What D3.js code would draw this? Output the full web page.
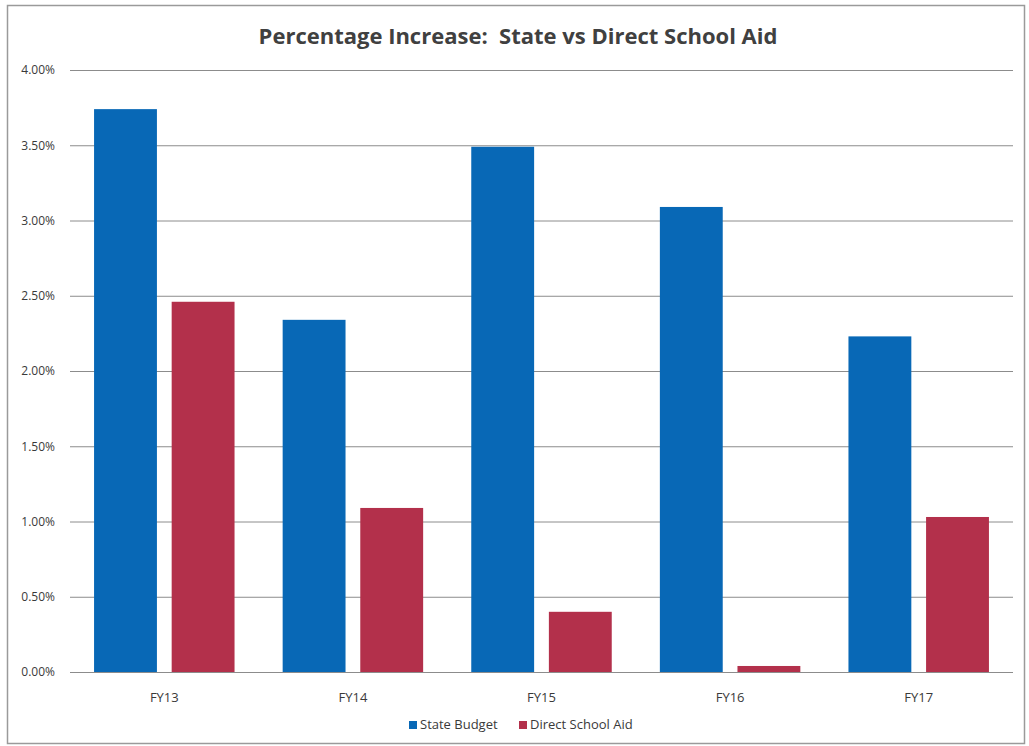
<!DOCTYPE html>
<html>
<head>
<meta charset="utf-8">
<script src="https://cdn.jsdelivr.net/npm/d3@7"></script>
<style>
  body { margin: 0; background: #fff; }
  text { font-family: "Open Sans", "Lato", sans-serif; }
</style>
</head>
<body>
<div id="chart"></div>
<script>
// ===============================
// DATA
// ===============================
const categories = ["FY13", "FY14", "FY15", "FY16", "FY17"];
const seriesNames = ["State Budget", "Direct School Aid"];
const stateBudget = [3.74, 2.34, 3.49, 3.09, 2.23];
const directSchoolAid = [2.46, 1.09, 0.40, 0.04, 1.03];
const yTicks = [0, 0.5, 1, 1.5, 2, 2.5, 3, 3.5, 4];
const colors = ["#0868b6", "#b3304b"];

// ===============================
// DIMENSIONS
// ===============================
const W = 1029, H = 746;
const margin = { top: 70, right: 16, bottom: 74, left: 70 };
const width = W - margin.left - margin.right;
const height = H - margin.top - margin.bottom;

const root = d3.select("#chart").append("svg")
  .attr("width", W)
  .attr("height", H);

// outer frame
root.append("rect")
  .attr("x", 7.5).attr("y", 5.5)
  .attr("width", 1017).attr("height", 738)
  .attr("fill", "#fff")
  .attr("stroke", "#9a9a9a")
  .attr("stroke-width", 1.5);

const svg = root.append("g")
  .attr("transform", `translate(${margin.left},${margin.top})`);

// ===============================
// SCALES
// ===============================
const x0 = d3.scaleBand().domain(categories).range([0, width]).padding(0);
const x1 = d3.scaleBand().domain(seriesNames)
  .range([0, x0.bandwidth()])
  .paddingInner(0.19)
  .paddingOuter(0.31);
const y = d3.scaleLinear().domain([0, 4]).range([height, 0]);

// ===============================
// GRID + Y AXIS
// ===============================
svg.append("g")
  .call(d3.axisLeft(y).tickValues(yTicks).tickSize(-width)
    .tickFormat(d => d.toFixed(2) + "%"))
  .call(g => g.select(".domain").remove())
  .call(g => g.selectAll(".tick line").attr("stroke", "#8c8c8c").attr("stroke-width", 1))
  .call(g => g.selectAll(".tick text")
    .attr("x", -15)
    .attr("fill", "#3a3a3a")
    .attr("font-size", "12px"));

// ===============================
// BARS
// ===============================
const rows = categories.map((c, i) => ({
  cat: c,
  values: [stateBudget[i], directSchoolAid[i]]
}));

const groups = svg.selectAll(".grp")
  .data(rows)
  .join("g")
  .attr("class", "grp")
  .attr("transform", d => `translate(${x0(d.cat)},0)`);

groups.selectAll("rect")
  .data(d => d.values.map((v, j) => ({ name: seriesNames[j], v, j })))
  .join("rect")
  .attr("x", d => x1(d.name))
  .attr("width", x1.bandwidth())
  .attr("y", d => y(d.v))
  .attr("height", d => y(0) - y(d.v))
  .attr("fill", d => colors[d.j]);

// ===============================
// X AXIS LABELS
// ===============================
svg.append("g")
  .attr("transform", `translate(0,${height})`)
  .call(d3.axisBottom(x0).tickSize(0).tickPadding(21))
  .call(g => g.select(".domain").remove())
  .call(g => g.selectAll(".tick text")
    .attr("fill", "#3a3a3a")
    .attr("font-size", "13px"));

// ===============================
// TITLE
// ===============================
root.append("text")
  .attr("x", 518)
  .attr("y", 44)
  .attr("text-anchor", "middle")
  .attr("font-size", "22px")
  .attr("font-weight", "bold")
  .attr("fill", "#404040")
  .style("white-space", "pre")
  .text("Percentage Increase:  State vs Direct School Aid");

// ===============================
// LEGEND
// ===============================
const legend = root.append("g").attr("transform", "translate(0,729)");
const legendX = [409, 519];
seriesNames.forEach((s, i) => {
  legend.append("rect")
    .attr("x", legendX[i]).attr("y", -8)
    .attr("width", 8).attr("height", 8)
    .attr("fill", colors[i]);
  legend.append("text")
    .attr("x", legendX[i] + 11).attr("y", 0)
    .attr("font-size", "13px")
    .attr("fill", "#3a3a3a")
    .text(s);
});
</script>
</body>
</html>
